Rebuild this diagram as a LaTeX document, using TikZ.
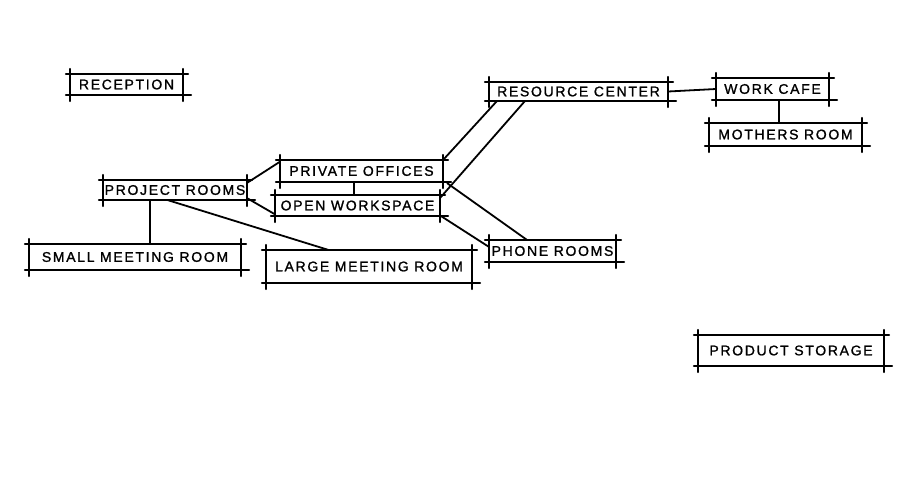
\documentclass[tikz,border=0pt]{standalone}
\usepackage{fontspec}
\setmainfont[LetterSpace=12,FakeBold=1.2]{Liberation Sans}
\begin{document}
\begin{tikzpicture}[x=1pt,y=-1pt,
  room/.style={inner sep=0pt, font=\fontsize{14}{14}\selectfont, text=black},
  skline/.style={line width=1.8pt, line cap=round},
  conn/.style={line width=1.8pt, line cap=round}]
\useasboundingbox[fill=white] (0,0) rectangle (904,483);
% rooms: centre, size
\node[room, minimum width=113, minimum height=21] (rec) at (126.5,84.5) {RECEPTION};
\node[room, minimum width=179, minimum height=19] (rc) at (578.5,91.5) {RESOURCE CENTER};
\node[room, minimum width=113, minimum height=22] (cafe) at (772.5,89) {WORK CAFE};
\node[room, minimum width=153, minimum height=23] (moth) at (785.5,134.5) {MOTHERS ROOM};
\node[room, minimum width=163, minimum height=22] (po) at (361.5,171) {PRIVATE OFFICES};
\node[room, minimum width=144, minimum height=20] (proj) at (175,190) {PROJECT ROOMS};
\node[room, minimum width=165, minimum height=21] (ow) at (357.5,205.5) {OPEN WORKSPACE};
\node[room, minimum width=212, minimum height=26] (small) at (135,257) {SMALL MEETING ROOM};
\node[room, minimum width=206, minimum height=33] (large) at (369,266.5) {LARGE MEETING ROOM};
\node[room, minimum width=127, minimum height=22] (phone) at (552.5,251) {PHONE ROOMS};
\node[room, minimum width=186, minimum height=31] (prod) at (791,350.5) {PRODUCT STORAGE};
% sketchy box outlines with overshoot
\foreach \n in {rec,rc,cafe,moth,po,proj,ow,small,large,phone,prod}{
  \draw[skline] ([xshift=-4pt]\n.north west) -- ([xshift=5pt]\n.north east);
  \draw[skline] ([xshift=-4pt]\n.south west) -- ([xshift=8pt]\n.south east);
  \draw[skline] ([yshift=5pt]\n.north west) -- ([yshift=-6pt]\n.south west);
  \draw[skline] ([yshift=5pt]\n.north east) -- ([yshift=-6pt]\n.south east);
}
% connectors
\draw[conn] ([yshift=-3pt]proj.north east) -- ([yshift=-2pt]po.north west);
\draw[conn] ([yshift=2pt]proj.south east) -- ([yshift=2pt]ow.south west);
\draw[conn] ([xshift=-3.5pt]po.south -| ow.north) -- ([xshift=-3.5pt]ow.north);
\draw[conn] ([xshift=-25pt]proj.south) -- ([xshift=15pt]small.north);
\draw[conn] ([xshift=-7pt]proj.south) -- ([xshift=-41pt]large.north);
\draw[conn] ([xshift=8pt]rc.south west) -- (po.north east);
\draw[conn] ([xshift=36pt]rc.south west) -- ([yshift=-3pt]ow.north east);
\draw[conn] ([xshift=4pt,yshift=-1pt]po.south east) -- ([xshift=38pt]phone.north west);
\draw[conn] ([xshift=1pt]ow.south east) -- ([yshift=-7pt]phone.north west);
\draw[conn] (rc.east) -- (cafe.west);
\draw[conn] ([xshift=6.5pt]cafe.south) -- ([xshift=6.5pt]moth.north -| cafe.south);
\end{tikzpicture}
\end{document}
